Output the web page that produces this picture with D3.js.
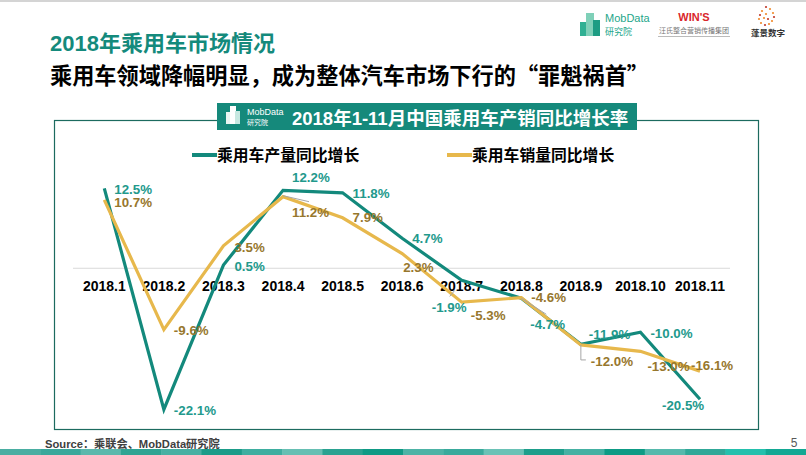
<!DOCTYPE html>
<html>
<head>
<meta charset="utf-8">
<script src="https://cdn.jsdelivr.net/npm/d3@7"></script>
<style>
  body { margin: 0; background: #fff; }
  svg { display: block; }
</style>
</head>
<body>
<script>
// data
var months = ["2018.1", "2018.2", "2018.3", "2018.4", "2018.5", "2018.6", "2018.7", "2018.8", "2018.9", "2018.10", "2018.11"];
var production = [12.5, -22.1, 0.5, 12.2, 11.8, 4.7, -1.9, -4.7, -11.9, -10.0, -20.5];
var sales = [10.7, -9.6, 3.5, 11.2, 7.9, 2.3, -5.3, -4.6, -12.0, -13.0, -16.1];
var seriesNames = ["乘用车产量同比增长", "乘用车销量同比增长"];

// where each data label sits relative to its point (left edge, vertical middle)
var prodLabelOffset = [[10, 1], [10, 1], [11, 1], [9, -13], [10, 0], [10, 0], [-30, 27], [9, 26], [8, -10], [10, 1], [-38, 6]];
var salesLabelOffset = [[10, 2], [10, 1], [11, 1], [9, 16], [10, 0], [1, 14], [9, 13], [10, 0], [10, 16], [7, 15], [-9, -6]];

var W = 806, H = 455;
var teal = "#13897c", gold = "#e7b84c";
var tealText = "#22998c", goldText = "#97772d";
var cjk = "'Noto Sans CJK SC', sans-serif";
var latin = "'Liberation Sans', Arial, 'Noto Sans CJK SC', sans-serif";

var svg = d3.select("body").append("svg").attr("width", W).attr("height", H);

// top grey rule
svg.append("rect").attr("x", 0).attr("y", 0).attr("width", W).attr("height", 2).attr("fill", "#d4d4d4");

// headings
svg.append("text").attr("x", 50).attr("y", 51)
  .style("font-family", latin).style("font-weight", "bold").style("font-size", "22px")
  .attr("fill", "#148a7c").text("2018年乘用车市场情况");
svg.append("text").attr("x", 50).attr("y", 84)
  .style("font-family", cjk).style("font-weight", "bold").style("font-size", "22.2px")
  .attr("fill", "#000").text("乘用车领域降幅明显，成为整体汽车市场下行的“罪魁祸首”");

// logos top right (rough)
var logo = svg.append("g");
logo.append("rect").attr("x", 580).attr("y", 22).attr("width", 7).attr("height", 14).attr("fill", "#2fb093");
logo.append("rect").attr("x", 586).attr("y", 13).attr("width", 8).attr("height", 23).attr("fill", "#7fd0b8");
logo.append("rect").attr("x", 593).attr("y", 20).attr("width", 7).attr("height", 16).attr("fill", "#1d9c83");
logo.append("text").attr("x", 605).attr("y", 22).style("font-family", latin).style("font-size", "11px").attr("fill", "#1ea68a").text("MobData");
logo.append("text").attr("x", 605).attr("y", 35).style("font-family", cjk).style("font-size", "9px").attr("fill", "#1ea68a").text("研究院");
logo.append("text").attr("x", 694).attr("y", 21).attr("text-anchor", "middle").style("font-family", latin).style("font-weight", "bold").style("font-size", "11px").attr("fill", "#d9262b").text("WIN'S");
logo.append("text").attr("x", 694).attr("y", 33).attr("text-anchor", "middle").style("font-family", cjk).style("font-size", "7px").attr("fill", "#777").text("汪氏整合营销传播集团");
logo.append("rect").attr("x", 658).attr("y", 36).attr("width", 72).attr("height", 1).attr("fill", "#bbb");
var dotPos = [[766, 7], [770, 9], [773, 13], [774, 17], [772, 21], [769, 24], [765, 25], [761, 23], [759, 19], [760, 15], [762, 11], [766, 14], [768, 19], [764, 18]];
logo.selectAll("circle").data(dotPos).enter().append("circle")
  .attr("cx", function(d) { return d[0]; }).attr("cy", function(d) { return d[1]; })
  .attr("r", 1.1).attr("fill", function(d, i) { return i % 3 ? "#f08a2c" : "#c0392b"; });
logo.append("text").attr("x", 768).attr("y", 36).attr("text-anchor", "middle").style("font-family", cjk).style("font-weight", "bold").style("font-size", "8.5px").attr("fill", "#333").text("蓬景数字");

// chart frame
svg.append("rect").attr("x", 54.5).attr("y", 120.5).attr("width", 704).attr("height", 309)
  .attr("fill", "none").attr("stroke", "#1c6b5f").attr("stroke-width", 1.2);

// title banner
svg.append("rect").attr("x", 217).attr("y", 103).attr("width", 420).attr("height", 27).attr("fill", "#15897b");
svg.append("rect").attr("x", 226).attr("y", 112).attr("width", 5).attr("height", 12).attr("fill", "#e9f5f2");
svg.append("rect").attr("x", 230).attr("y", 106).attr("width", 6).attr("height", 18).attr("fill", "#ffffff");
svg.append("rect").attr("x", 235).attr("y", 111).attr("width", 5).attr("height", 13).attr("fill", "#c7e8e1");
svg.append("text").attr("x", 247).attr("y", 115).style("font-family", latin).style("font-size", "9px").attr("fill", "#fff").text("MobData");
svg.append("text").attr("x", 247).attr("y", 125).style("font-family", cjk).style("font-size", "7px").attr("fill", "#fff").text("研究院");
svg.append("text").attr("x", 292).attr("y", 124.5)
  .style("font-family", latin).style("font-weight", "bold").style("font-size", "18.5px")
  .attr("fill", "#fff").text("2018年1-11月中国乘用车产销同比增长率");

// scales
var x = d3.scalePoint().domain(months).range([104.3, 700]);
var y = d3.scaleLinear().domain([-25, 15]).range([428, 172.4]);

// zero line
svg.append("line").attr("x1", 73).attr("x2", 730).attr("y1", y(0)).attr("y2", y(0))
  .attr("stroke", "#d9d9d9").attr("stroke-width", 1);

// category labels
svg.append("g").selectAll("text").data(months).enter().append("text")
  .attr("x", function(d) { return x(d); })
  .attr("y", y(0) + 22.5)
  .attr("text-anchor", "middle")
  .style("font-family", latin).style("font-weight", "bold").style("font-size", "14px")
  .attr("fill", "#000")
  .text(function(d) { return d; });

// lines
var line = d3.line()
  .x(function(d, i) { return x(months[i]); })
  .y(function(d) { return y(d); });

svg.append("path").datum(production).attr("d", line)
  .attr("fill", "none").attr("stroke", teal).attr("stroke-width", 3.2).attr("stroke-linejoin", "miter");
svg.append("path").datum(sales).attr("d", line)
  .attr("fill", "none").attr("stroke", gold).attr("stroke-width", 3.2).attr("stroke-linejoin", "miter");

// leader lines for some displaced labels
var leader = d3.line();
var leaders = [
  [[x(months[3]), y(sales[3]) - 1], [x(months[3]) + 26, y(sales[3]) + 5]],
  [[x(months[6]) - 12, y(production[6]) + 16], [x(months[6]) - 7, y(production[6]) + 10]],
  [[x(months[7]), y(production[7])], [x(months[7]) + 25, y(production[7]) + 16]],
  [[x(months[8]), y(sales[8])], [x(months[8]), y(sales[8]) + 15], [x(months[8]) + 5, y(sales[8]) + 15]]
];
svg.append("g").selectAll("path").data(leaders).enter().append("path")
  .attr("d", function(d) { return leader(d); })
  .attr("fill", "none").attr("stroke", "#a6a6a6").attr("stroke-width", 1);

// data labels
function fmt(v) { return v.toFixed(1) + "%"; }
function labels(vals, offs, color) {
  svg.append("g").selectAll("text").data(vals).enter().append("text")
    .attr("x", function(d, i) { return x(months[i]) + offs[i][0]; })
    .attr("y", function(d, i) { return y(d) + offs[i][1] + 4.7; })
    .style("font-family", latin).style("font-weight", "bold").style("font-size", "13.3px")
    .attr("fill", color)
    .text(fmt);
}
labels(production, prodLabelOffset, tealText);
labels(sales, salesLabelOffset, goldText);

// legend
var legendX = [192, 447];
var legendColors = [teal, gold];
var lg = svg.append("g").selectAll("g").data(seriesNames).enter().append("g")
  .attr("transform", function(d, i) { return "translate(" + legendX[i] + ",155)"; });
lg.append("line").attr("x1", 0).attr("x2", 25).attr("y1", 0).attr("y2", 0)
  .attr("stroke", function(d, i) { return legendColors[i]; }).attr("stroke-width", 4);
lg.append("text").attr("x", 25).attr("y", 6)
  .style("font-family", cjk).style("font-weight", "bold").style("font-size", "15.8px")
  .attr("fill", "#000").text(function(d) { return d; });

// footer
svg.append("text").attr("x", 45).attr("y", 448)
  .style("font-family", latin).style("font-weight", "bold").style("font-size", "11.2px")
  .attr("fill", "#404040").text("Source：乘联会、MobData研究院");
svg.append("text").attr("x", 794).attr("y", 447).attr("text-anchor", "middle")
  .style("font-family", latin).style("font-size", "12px").attr("fill", "#595959").text("5");

var strip = ["#4aaea2", "#3aa89b", "#5bb8ac", "#2fa493", "#48b0a3", "#1b9c89", "#3eaea0", "#66bfb3", "#2aa291", "#0f9a85",
             "#4db3a6", "#39aa9c", "#6ac2b6", "#1d9e8b", "#45b1a3", "#0d9b85", "#55b9ac", "#30a898", "#24c0ad", "#13a894"];
svg.append("g").selectAll("rect").data(strip).enter().append("rect")
  .attr("x", function(d, i) { return i * W / strip.length; })
  .attr("y", 449).attr("width", W / strip.length + 0.5).attr("height", 6)
  .attr("fill", function(d) { return d; });
</script>
</body>
</html>
